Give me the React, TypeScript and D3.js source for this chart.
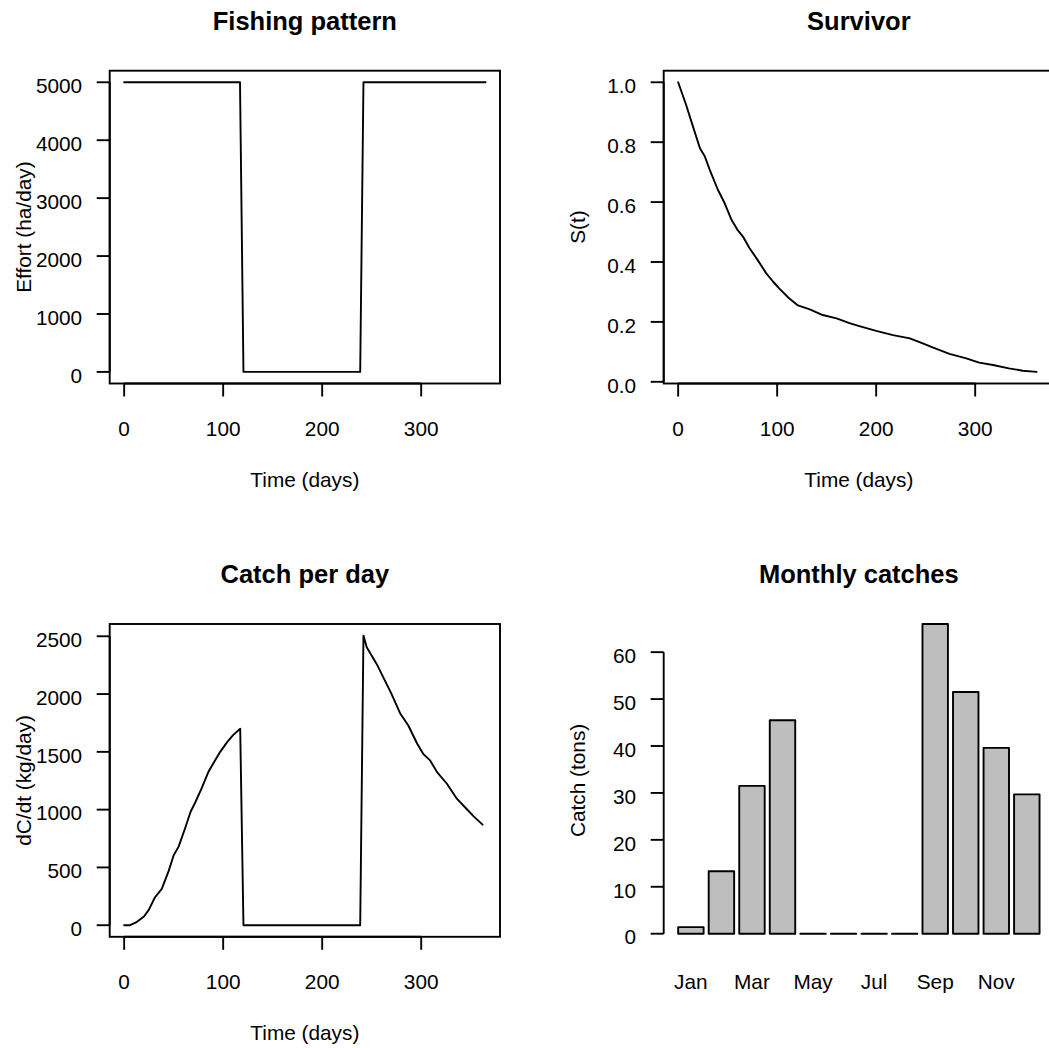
import React from 'react';
import * as d3 from 'd3';

// ---- Data ----
const effortDays = [0, 117, 120.5, 238.4, 241.7, 365];
const effortValues = [5000, 5000, 0, 0, 5000, 5000];

const survDays = [0, 8, 15, 22, 27, 32, 40, 47, 54, 60, 66, 72, 80, 89, 96, 102, 112, 121, 133, 146, 160, 173, 183, 200, 217, 234, 247, 257, 274, 291, 304, 318, 334, 348, 362];
const survValues = [1.0, 0.925, 0.852, 0.78, 0.752, 0.707, 0.642, 0.596, 0.54, 0.507, 0.482, 0.447, 0.408, 0.362, 0.334, 0.312, 0.279, 0.255, 0.242, 0.223, 0.212, 0.196, 0.186, 0.17, 0.156, 0.145, 0.128, 0.115, 0.093, 0.078, 0.064, 0.056, 0.045, 0.037, 0.033];

const catchDays = [0, 6, 13, 20, 25, 31, 38, 45, 50, 55, 62, 67, 72, 78, 85, 90, 97, 104, 110, 117.2, 120.5, 238.4, 241.7, 245, 255, 265, 270, 279, 287, 296, 302, 309, 316, 326, 336, 344, 353, 362];
const catchValues = [0, 0, 29, 75, 135, 240, 315, 470, 605, 680, 850, 980, 1066, 1180, 1325, 1400, 1500, 1584, 1645, 1700, 0, 0, 2506, 2405, 2261, 2088, 2002, 1829, 1728, 1570, 1483, 1426, 1325, 1224, 1095, 1023, 942, 870];

const months = ['Jan', 'Feb', 'Mar', 'Apr', 'May', 'Jun', 'Jul', 'Aug', 'Sep', 'Oct', 'Nov', 'Dec'];
const monthlyCatch = [1.4, 13.3, 31.5, 45.5, 0, 0, 0, 0, 66.0, 51.5, 39.6, 29.7];

const timeTicks = [0, 100, 200, 300];
const effortTicks = [0, 1000, 2000, 3000, 4000, 5000];
const survTicks = [0, 0.2, 0.4, 0.6, 0.8, 1.0];
const catchTicks = [0, 500, 1000, 1500, 2000, 2500];
const barTicks = [0, 10, 20, 30, 40, 50, 60];

// ---- Layout ----
const W = 1049, H = 1048;
const PL = 109.7, PR = 500, PT = 70.7, PB = 383.5;
const COL = 554, ROW = 553.3;
const FONT = '"Liberation Sans", Arial, Helvetica, sans-serif';
const FS = 20.8;
const LW = 1.9;

function pad4(lo: number, hi: number): [number, number] {
  const r = hi - lo;
  return [lo - 0.04 * r, hi + 0.04 * r];
}

const xTime = d3.scaleLinear().domain(pad4(0, 365)).range([PL, PR]);

function Frame({ title, xlab, ylab, box = true }: { title: string; xlab?: string; ylab: string; box?: boolean }) {
  const cx = (PL + PR) / 2;
  const cy = (PT + PB) / 2;
  return (
    <g>
      <text x={cx} y={30} textAnchor="middle" fontWeight="bold" fontSize={25.5}>{title}</text>
      {xlab && <text x={cx} y={486.7} textAnchor="middle" fontSize={FS}>{xlab}</text>}
      <text transform={`translate(31,${cy}) rotate(-90)`} textAnchor="middle" fontSize={FS}>{ylab}</text>
      {box && <rect x={PL} y={PT} width={PR - PL} height={PB - PT} fill="none" stroke="#000" strokeWidth={LW} />}
    </g>
  );
}

function XAxis({ scale, ticks }: { scale: d3.ScaleLinear<number, number>; ticks: number[] }) {
  return (
    <g>
      <line x1={scale(ticks[0])} x2={scale(ticks[ticks.length - 1])} y1={PB} y2={PB} stroke="#000" strokeWidth={LW} />
      {ticks.map((t) => (
        <g key={t}>
          <line x1={scale(t)} x2={scale(t)} y1={PB} y2={PB + 13} stroke="#000" strokeWidth={LW} />
          <text x={scale(t)} y={435.5} textAnchor="middle" fontSize={FS}>{String(t)}</text>
        </g>
      ))}
    </g>
  );
}

function YAxis({ scale, ticks, fmt }: { scale: d3.ScaleLinear<number, number>; ticks: number[]; fmt: (v: number) => string }) {
  return (
    <g>
      <line x1={PL} x2={PL} y1={scale(ticks[0])} y2={scale(ticks[ticks.length - 1])} stroke="#000" strokeWidth={LW} />
      {ticks.map((t) => (
        <g key={t}>
          <line x1={PL - 13} x2={PL} y1={scale(t)} y2={scale(t)} stroke="#000" strokeWidth={LW} />
          <text x={PL - 27.5} y={scale(t) + 10.8} textAnchor="end" fontSize={FS}>{fmt(t)}</text>
        </g>
      ))}
    </g>
  );
}

function LinePanel({ days, values, yScale }: { days: number[]; values: number[]; yScale: d3.ScaleLinear<number, number> }) {
  const pts = days.map((d, i) => [d, values[i]] as [number, number]);
  const gen = d3.line<[number, number]>().x((p) => xTime(p[0])).y((p) => yScale(p[1]));
  return <path d={gen(pts) || ''} fill="none" stroke="#000" strokeWidth={LW} strokeLinejoin="round" strokeLinecap="round" />;
}

export default function App() {
  const yEffort = d3.scaleLinear().domain(pad4(d3.min(effortValues)!, d3.max(effortValues)!)).range([PB, PT]);
  const ySurv = d3.scaleLinear().domain(pad4(d3.min(survValues)!, d3.max(survValues)!)).range([PB, PT]);
  const yCatch = d3.scaleLinear().domain(pad4(d3.min(catchValues)!, d3.max(catchValues)!)).range([PB, PT]);

  const maxBar = d3.max(monthlyCatch)!;
  const yBar = d3.scaleLinear().domain([-0.01 * maxBar, maxBar]).range([PB, PT]);
  const barLefts = monthlyCatch.map((_, i) => 0.2 + i * 1.2);
  const xBar = d3.scaleLinear().domain(pad4(barLefts[0], barLefts[barLefts.length - 1] + 1)).range([PL, PR]);
  const bw = xBar(1) - xBar(0);

  const f0 = (v: number) => String(v);
  const f1 = d3.format('.1f');

  return (
    <svg width={W} height={H} viewBox={`0 0 ${W} ${H}`} style={{ position: 'absolute', left: 0, top: 0, display: 'block', background: '#fff' }} fontFamily={FONT}>
      <rect x={0} y={0} width={W} height={H} fill="#fff" />
      {/* Fishing pattern */}
      <g transform="translate(0,0)">
        <Frame title="Fishing pattern" xlab="Time (days)" ylab="Effort (ha/day)" />
        <XAxis scale={xTime} ticks={timeTicks} />
        <YAxis scale={yEffort} ticks={effortTicks} fmt={f0} />
        <LinePanel days={effortDays} values={effortValues} yScale={yEffort} />
      </g>
      {/* Survivor */}
      <g transform={`translate(${COL},0)`}>
        <Frame title="Survivor" xlab="Time (days)" ylab="S(t)" />
        <XAxis scale={xTime} ticks={timeTicks} />
        <YAxis scale={ySurv} ticks={survTicks} fmt={f1} />
        <LinePanel days={survDays} values={survValues} yScale={ySurv} />
      </g>
      {/* Catch per day */}
      <g transform={`translate(0,${ROW})`}>
        <Frame title="Catch per day" xlab="Time (days)" ylab="dC/dt (kg/day)" />
        <XAxis scale={xTime} ticks={timeTicks} />
        <YAxis scale={yCatch} ticks={catchTicks} fmt={f0} />
        <LinePanel days={catchDays} values={catchValues} yScale={yCatch} />
      </g>
      {/* Monthly catches */}
      <g transform={`translate(${COL},${ROW})`}>
        <Frame title="Monthly catches" ylab="Catch (tons)" box={false} />
        <YAxis scale={yBar} ticks={barTicks} fmt={f0} />
        {monthlyCatch.map((v, i) => {
          const x0 = xBar(barLefts[i]);
          const yTop = yBar(v);
          const yBase = yBar(0);
          const d = `M${x0},${yBase}H${x0 + bw}V${yTop}H${x0}Z`;
          return <path key={months[i]} d={d} fill="#bebebe" stroke="#000" strokeWidth={LW} strokeLinejoin="round" />;
        })}
        {months.map((m, i) => (i % 2 === 0 ? (
          <text key={m} x={xBar(barLefts[i] + 0.5)} y={435.5} textAnchor="middle" fontSize={FS}>{m}</text>
        ) : null))}
      </g>
    </svg>
  );
}
